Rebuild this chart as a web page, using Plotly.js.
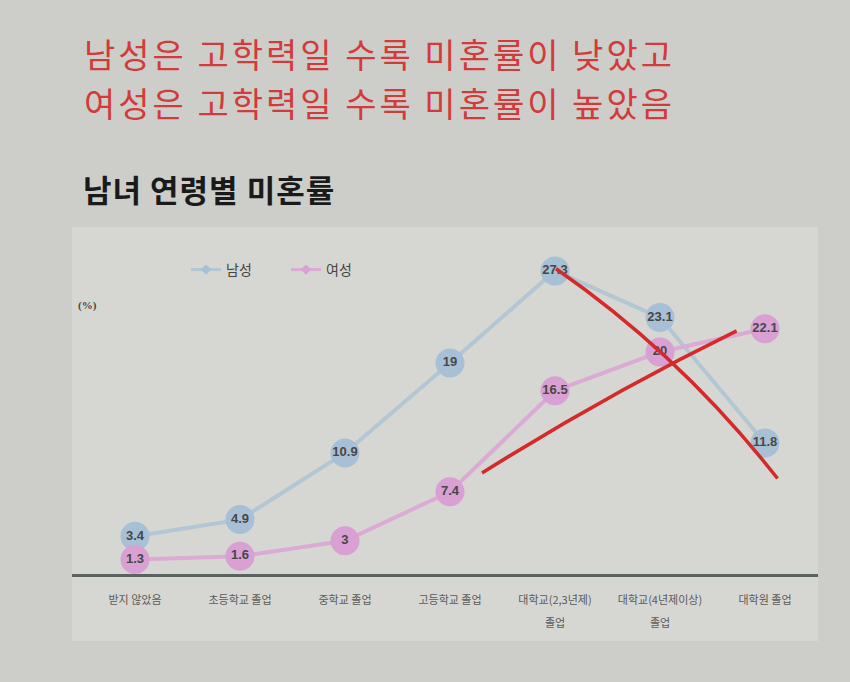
<!DOCTYPE html>
<html>
<head>
<meta charset="utf-8">
<script src="https://cdn.plot.ly/plotly-3.0.1.min.js"></script>
<style>
html,body{margin:0;padding:0;background:#cdcec9;}
#chart{width:850px;height:682px;}
g.annotation[data-index="0"] text, g.annotation[data-index="1"] text {letter-spacing:3px;}
g.annotation[data-index="2"] text {letter-spacing:1px;}
</style>
</head>
<body>
<div id="chart"></div>
<script>
// ---- data ----
const categories = [
  "받지 않았음",
  "초등학교 졸업",
  "중학교 졸업",
  "고등학교 졸업",
  "대학교(2,3년제)\n졸업",
  "대학교(4년제이상)\n졸업",
  "대학원 졸업"
];
const maleValues = [3.4, 4.9, 10.9, 19, 27.3, 23.1, 11.8];
const femaleValues = [1.3, 1.6, 3, 7.4, 16.5, 20, 22.1];
const maleLabel = "남성";
const femaleLabel = "여성";
const headlineLines = ["남성은 고학력일 수록 미혼률이 낮았고", "여성은 고학력일 수록 미혼률이 높았음"];
const chartTitle = "남녀 연령별 미혼률";
const unitLabel = "(%)";

const xIdx = categories.map((_, i) => i);
const firstLines = categories.map(c => c.split("\n")[0]);
const KR = "'Noto Sans CJK KR', 'Noto Sans', sans-serif";

const blueLine = "#b2c6d3", blueMarker = "#a7c0d5";
const pinkLine = "#dbaad5", pinkMarker = "#d8a0d3";

function series(vals, name, lc, mc) {
  return {
    x: xIdx, y: vals, type: "scatter", mode: "lines+markers+text",
    name: name, showlegend: false, cliponaxis: false,
    line: {color: lc, width: 4},
    marker: {color: mc, size: 29, line: {width: 0}},
    text: vals.map(String), textposition: "middle center",
    textfont: {family: "'Liberation Sans', Arial, sans-serif", size: 13, color: "#474747", weight: "bold"},
    hoverinfo: "skip"
  };
}
function legendEntry(name, lc, mc, lg) {
  return {
    x: [null], y: [null], type: "scatter", mode: "lines+markers", name: name, legend: lg,
    line: {color: lc, width: 3}, marker: {color: mc, size: 8, symbol: "diamond"}
  };
}

const traces = [
  series(maleValues, maleLabel, blueLine, blueMarker),
  series(femaleValues, femaleLabel, pinkLine, pinkMarker),
  legendEntry(maleLabel, blueLine, blueMarker, "legend"),
  legendEntry(femaleLabel, pinkLine, pinkMarker, "legend2")
];

// plot area: x 72..818, zero line at y=574, top 227
const yTop = 31.26;
const pxToPaperY = py => (574 - py) / 347;
const pxToPaperX = px => (px - 72) / 746;

const legendStyle = (xpx) => ({
  orientation: "h", x: pxToPaperX(xpx), y: pxToPaperY(270), xanchor: "left", yanchor: "middle",
  bgcolor: "rgba(0,0,0,0)", font: {family: KR, size: 14, color: "#444"}, itemwidth: 30
});

const annotations = [
  {text: headlineLines[0], xref: "paper", yref: "paper", x: pxToPaperX(112), y: pxToPaperY(53),
   xanchor: "left", yanchor: "middle", showarrow: false, font: {family: KR, size: 34, color: "#d23b3b"}},
  {text: headlineLines[1], xref: "paper", yref: "paper", x: pxToPaperX(112), y: pxToPaperY(102.5),
   xanchor: "left", yanchor: "middle", showarrow: false, font: {family: KR, size: 34, color: "#d23b3b"}},
  {text: "<b>" + chartTitle + "</b>", xref: "paper", yref: "paper", x: pxToPaperX(86), y: pxToPaperY(188),
   xanchor: "left", yanchor: "middle", showarrow: false, font: {family: KR, size: 31, color: "#1a1a1a"}},
  {text: "<b>" + unitLabel + "</b>", xref: "paper", yref: "paper", x: pxToPaperX(76), y: pxToPaperY(305),
   xanchor: "left", yanchor: "middle", showarrow: false, font: {family: "'Liberation Serif', serif", size: 11, color: "#444"}}
];
// second lines of the two-line category labels
categories.forEach((c, i) => {
  const parts = c.split("\n");
  if (parts.length > 1) {
    annotations.push({text: parts[1], xref: "x", yref: "paper", x: i, y: pxToPaperY(622),
      xanchor: "center", yanchor: "middle", showarrow: false,
      font: {family: KR, size: 11, color: "#5a5a5a"}});
  }
});

const layout = {
  width: 850, height: 682,
  paper_bgcolor: "#cdcec9",
  plot_bgcolor: "rgba(0,0,0,0)",
  margin: {l: 72, r: 32, t: 227, b: 108, pad: 0},
  showlegend: true,
  legend: legendStyle(186),
  legend2: legendStyle(286),
  xaxis: {
    range: [-0.6, 6.505], tickvals: xIdx, ticktext: firstLines,
    showgrid: false, zeroline: false, showline: true, linecolor: "#5b6360", linewidth: 3,
    ticks: "", ticklabelstandoff: 14, layer: "below traces",
    tickfont: {family: KR, size: 11, color: "#5a5a5a"}, fixedrange: true
  },
  yaxis: {
    range: [0, yTop], visible: false, showgrid: false, zeroline: false, fixedrange: true
  },
  shapes: [
    {type: "rect", xref: "paper", yref: "paper", x0: 0, x1: 1, y0: pxToPaperY(641), y1: 1,
     fillcolor: "#d6d7d2", line: {width: 0}, layer: "below"},
    // hand-drawn red strokes
    {type: "path", xref: "x", yref: "y", path: "M 4.01,27.5 Q 5.2,19.7 6.12,8.6",
     line: {color: "#d42a2a", width: 3.5}, layer: "above"},
    {type: "path", xref: "x", yref: "y", path: "M 3.305,9.1 Q 4.52,16.3 5.73,21.9",
     line: {color: "#d42a2a", width: 3.5}, layer: "above"}
  ],
  annotations: annotations
};

Plotly.newPlot("chart", traces, layout, {displayModeBar: false, staticPlot: true});
</script>
</body>
</html>
